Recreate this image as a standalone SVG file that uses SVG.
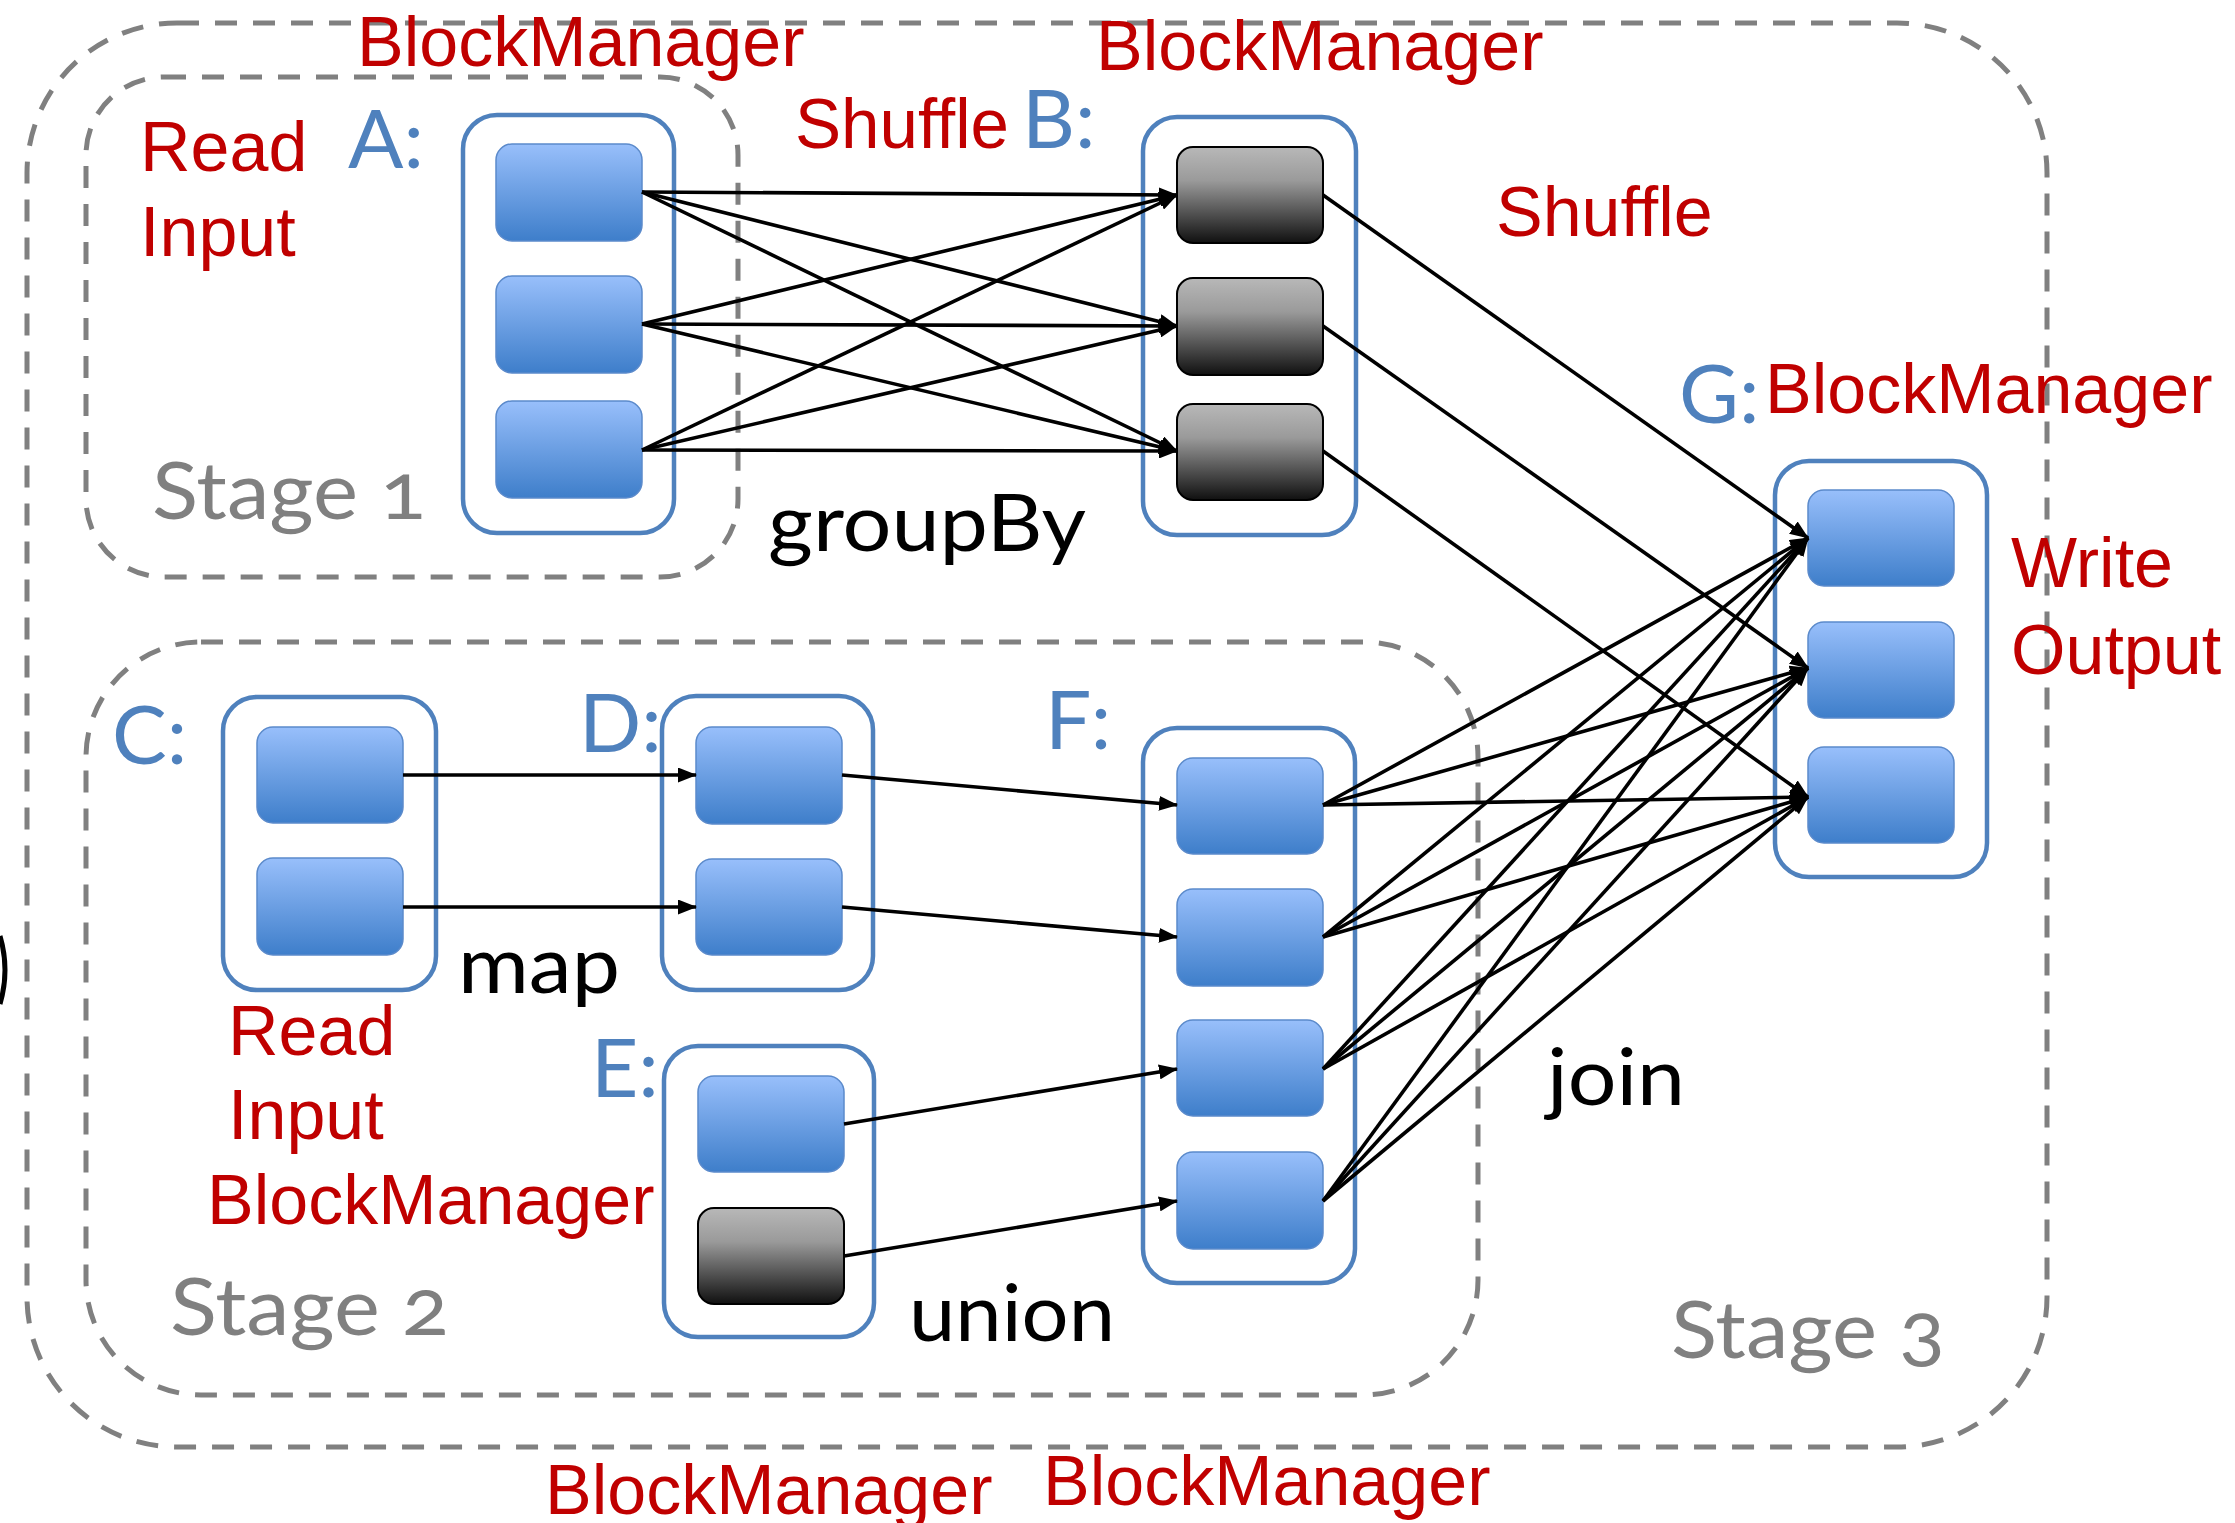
<svg xmlns="http://www.w3.org/2000/svg" width="2235" height="1523" viewBox="0 0 2235 1523">
<defs>
<linearGradient id="gBlue" x1="0" y1="0" x2="0" y2="1">
<stop offset="0" stop-color="#98BFFB"/>
<stop offset="1" stop-color="#3E7ECA"/>
</linearGradient>
<linearGradient id="gGray" x1="0" y1="0" x2="0" y2="1">
<stop offset="0" stop-color="#B8B8B8"/>
<stop offset="0.35" stop-color="#9A9A9A"/>
<stop offset="1" stop-color="#101010"/>
</linearGradient>
<marker id="arr" markerUnits="userSpaceOnUse" markerWidth="19" markerHeight="15" refX="18" refY="7.5" orient="auto">
<path d="M0,0 L19,7.5 L0,15 z" fill="#000"/>
</marker>
<style>
.stage{fill:none;stroke:#808080;stroke-width:5;stroke-dasharray:22 16}
.cont{fill:#fff;stroke:#4F81BD;stroke-width:4.5}
.blue{fill:url(#gBlue);stroke:#5B8ACB;stroke-width:1.5}
.gray{fill:url(#gGray);stroke:#000;stroke-width:2}
.red{font-family:"Liberation Sans",Arial,sans-serif;font-size:70px;fill:#C00000}
.lbl{font-family:Lato,"Open Sans",sans-serif;font-size:82px;fill:#4F81BD}
.op{font-family:Lato,"Open Sans",sans-serif;font-size:80px;fill:#000}
.stg{font-family:Lato,"Open Sans",sans-serif;font-size:80px;fill:#808080;font-feature-settings:"onum"}
.c{fill:none;stroke:#000;stroke-width:3.6;marker-end:url(#arr)}
</style>
</defs>
<rect width="2235" height="1523" fill="#fff"/>

<g id="stages">
<rect id="stage3" class="stage" x="27" y="23" width="2020" height="1424" rx="150" ry="150"/>
<rect id="stage1" class="stage" x="86" y="77" width="652" height="500" rx="78" ry="78"/>
<rect id="stage2" class="stage" x="86" y="642" width="1392" height="753" rx="115" ry="115"/>
</g>

<path d="M0,936 Q10,970 0,1004" fill="none" stroke="#000" stroke-width="5"/>

<g id="nodeA">
<rect class="cont" x="463" y="115" width="211" height="418" rx="34"/>
<rect class="blue" x="496" y="144" width="146" height="97" rx="16"/>
<rect class="blue" x="496" y="276" width="146" height="97" rx="16"/>
<rect class="blue" x="496" y="401" width="146" height="97" rx="16"/>
</g>
<g id="nodeB">
<rect class="cont" x="1143" y="117" width="213" height="418" rx="34"/>
<rect class="gray" x="1177" y="147" width="146" height="96" rx="16"/>
<rect class="gray" x="1177" y="278" width="146" height="97" rx="16"/>
<rect class="gray" x="1177" y="404" width="146" height="96" rx="16"/>
</g>
<g id="nodeG">
<rect class="cont" x="1775" y="461" width="212" height="416" rx="34"/>
<rect class="blue" x="1808" y="490" width="146" height="96" rx="16"/>
<rect class="blue" x="1808" y="622" width="146" height="96" rx="16"/>
<rect class="blue" x="1808" y="747" width="146" height="96" rx="16"/>
</g>
<g id="nodeC">
<rect class="cont" x="223" y="697" width="213" height="293" rx="34"/>
<rect class="blue" x="257" y="727" width="146" height="96" rx="16"/>
<rect class="blue" x="257" y="858" width="146" height="97" rx="16"/>
</g>
<g id="nodeD">
<rect class="cont" x="662" y="696" width="211" height="294" rx="34"/>
<rect class="blue" x="696" y="727" width="146" height="97" rx="16"/>
<rect class="blue" x="696" y="859" width="146" height="96" rx="16"/>
</g>
<g id="nodeE">
<rect class="cont" x="664" y="1046" width="210" height="291" rx="34"/>
<rect class="blue" x="698" y="1076" width="146" height="96" rx="16"/>
<rect class="gray" x="698" y="1208" width="146" height="96" rx="16"/>
</g>
<g id="nodeF">
<rect class="cont" x="1143" y="728" width="212" height="555" rx="34"/>
<rect class="blue" x="1177" y="758" width="146" height="96" rx="16"/>
<rect class="blue" x="1177" y="889" width="146" height="97" rx="16"/>
<rect class="blue" x="1177" y="1020" width="146" height="96" rx="16"/>
<rect class="blue" x="1177" y="1152" width="146" height="97" rx="16"/>
</g>

<g id="connectors">
<path class="c" d="M642,192 L1177,195"/>
<path class="c" d="M642,192 L1177,326"/>
<path class="c" d="M642,192 L1177,451"/>
<path class="c" d="M642,324 L1177,195"/>
<path class="c" d="M642,324 L1177,326"/>
<path class="c" d="M642,324 L1177,451"/>
<path class="c" d="M642,450 L1177,195"/>
<path class="c" d="M642,450 L1177,326"/>
<path class="c" d="M642,450 L1177,451"/>
<path class="c" d="M1323,195 L1808,538"/>
<path class="c" d="M1323,326 L1808,668"/>
<path class="c" d="M1323,451 L1808,797"/>
<path class="c" d="M403,775 L696,775"/>
<path class="c" d="M403,907 L696,907"/>
<path class="c" d="M842,775 L1177,805"/>
<path class="c" d="M842,907 L1177,937"/>
<path class="c" d="M844,1124 L1177,1069"/>
<path class="c" d="M844,1256 L1177,1201"/>
<path class="c" d="M1323,805 L1808,538"/>
<path class="c" d="M1323,805 L1808,668"/>
<path class="c" d="M1323,805 L1808,797"/>
<path class="c" d="M1323,937 L1808,538"/>
<path class="c" d="M1323,937 L1808,668"/>
<path class="c" d="M1323,937 L1808,797"/>
<path class="c" d="M1323,1069 L1808,538"/>
<path class="c" d="M1323,1069 L1808,668"/>
<path class="c" d="M1323,1069 L1808,797"/>
<path class="c" d="M1323,1201 L1808,538"/>
<path class="c" d="M1323,1201 L1808,668"/>
<path class="c" d="M1323,1201 L1808,797"/>
</g>

<g id="labels">
<text class="lbl" x="348" y="168">A:</text>
<text class="lbl" x="1022" y="148">B:</text>
<text class="lbl" x="1679" y="423">G:</text>
<text class="lbl" x="112" y="764">C:</text>
<text class="lbl" x="579" y="752">D:</text>
<text class="lbl" x="591" y="1097">E:</text>
<text class="lbl" x="1045" y="749">F:</text>

<text class="red" x="357" y="66">BlockManager</text>
<text class="red" x="1096" y="70">BlockManager</text>
<text class="red" x="795" y="148" textLength="214" lengthAdjust="spacingAndGlyphs">Shuffle</text>
<text class="red" x="1496" y="236">Shuffle</text>
<text class="red" x="1765" y="413">BlockManager</text>
<text class="red" x="140" y="171">Read</text>
<text class="red" x="140" y="256">Input</text>
<text class="red" x="2011" y="587">Write</text>
<text class="red" x="2011" y="674">Output</text>
<text class="red" x="228" y="1055">Read</text>
<text class="red" x="228" y="1139">Input</text>
<text class="red" x="207" y="1224">BlockManager</text>
<text class="red" x="545" y="1514">BlockManager</text>
<text class="red" x="1043" y="1505">BlockManager</text>

<text class="op" x="768" y="551" textLength="318" lengthAdjust="spacingAndGlyphs">groupBy</text>
<text class="op" x="458" y="993" textLength="162" lengthAdjust="spacingAndGlyphs">map</text>
<text class="op" x="1547" y="1105" textLength="138" lengthAdjust="spacingAndGlyphs">join</text>
<text class="op" x="909" y="1341" textLength="206" lengthAdjust="spacingAndGlyphs">union</text>

<text class="stg" x="152" y="519" textLength="274" lengthAdjust="spacingAndGlyphs">Stage 1</text>
<text class="stg" x="170" y="1335" textLength="279" lengthAdjust="spacingAndGlyphs">Stage 2</text>
<text class="stg" x="1671" y="1358" textLength="274" lengthAdjust="spacingAndGlyphs">Stage 3</text>
</g>
</svg>
